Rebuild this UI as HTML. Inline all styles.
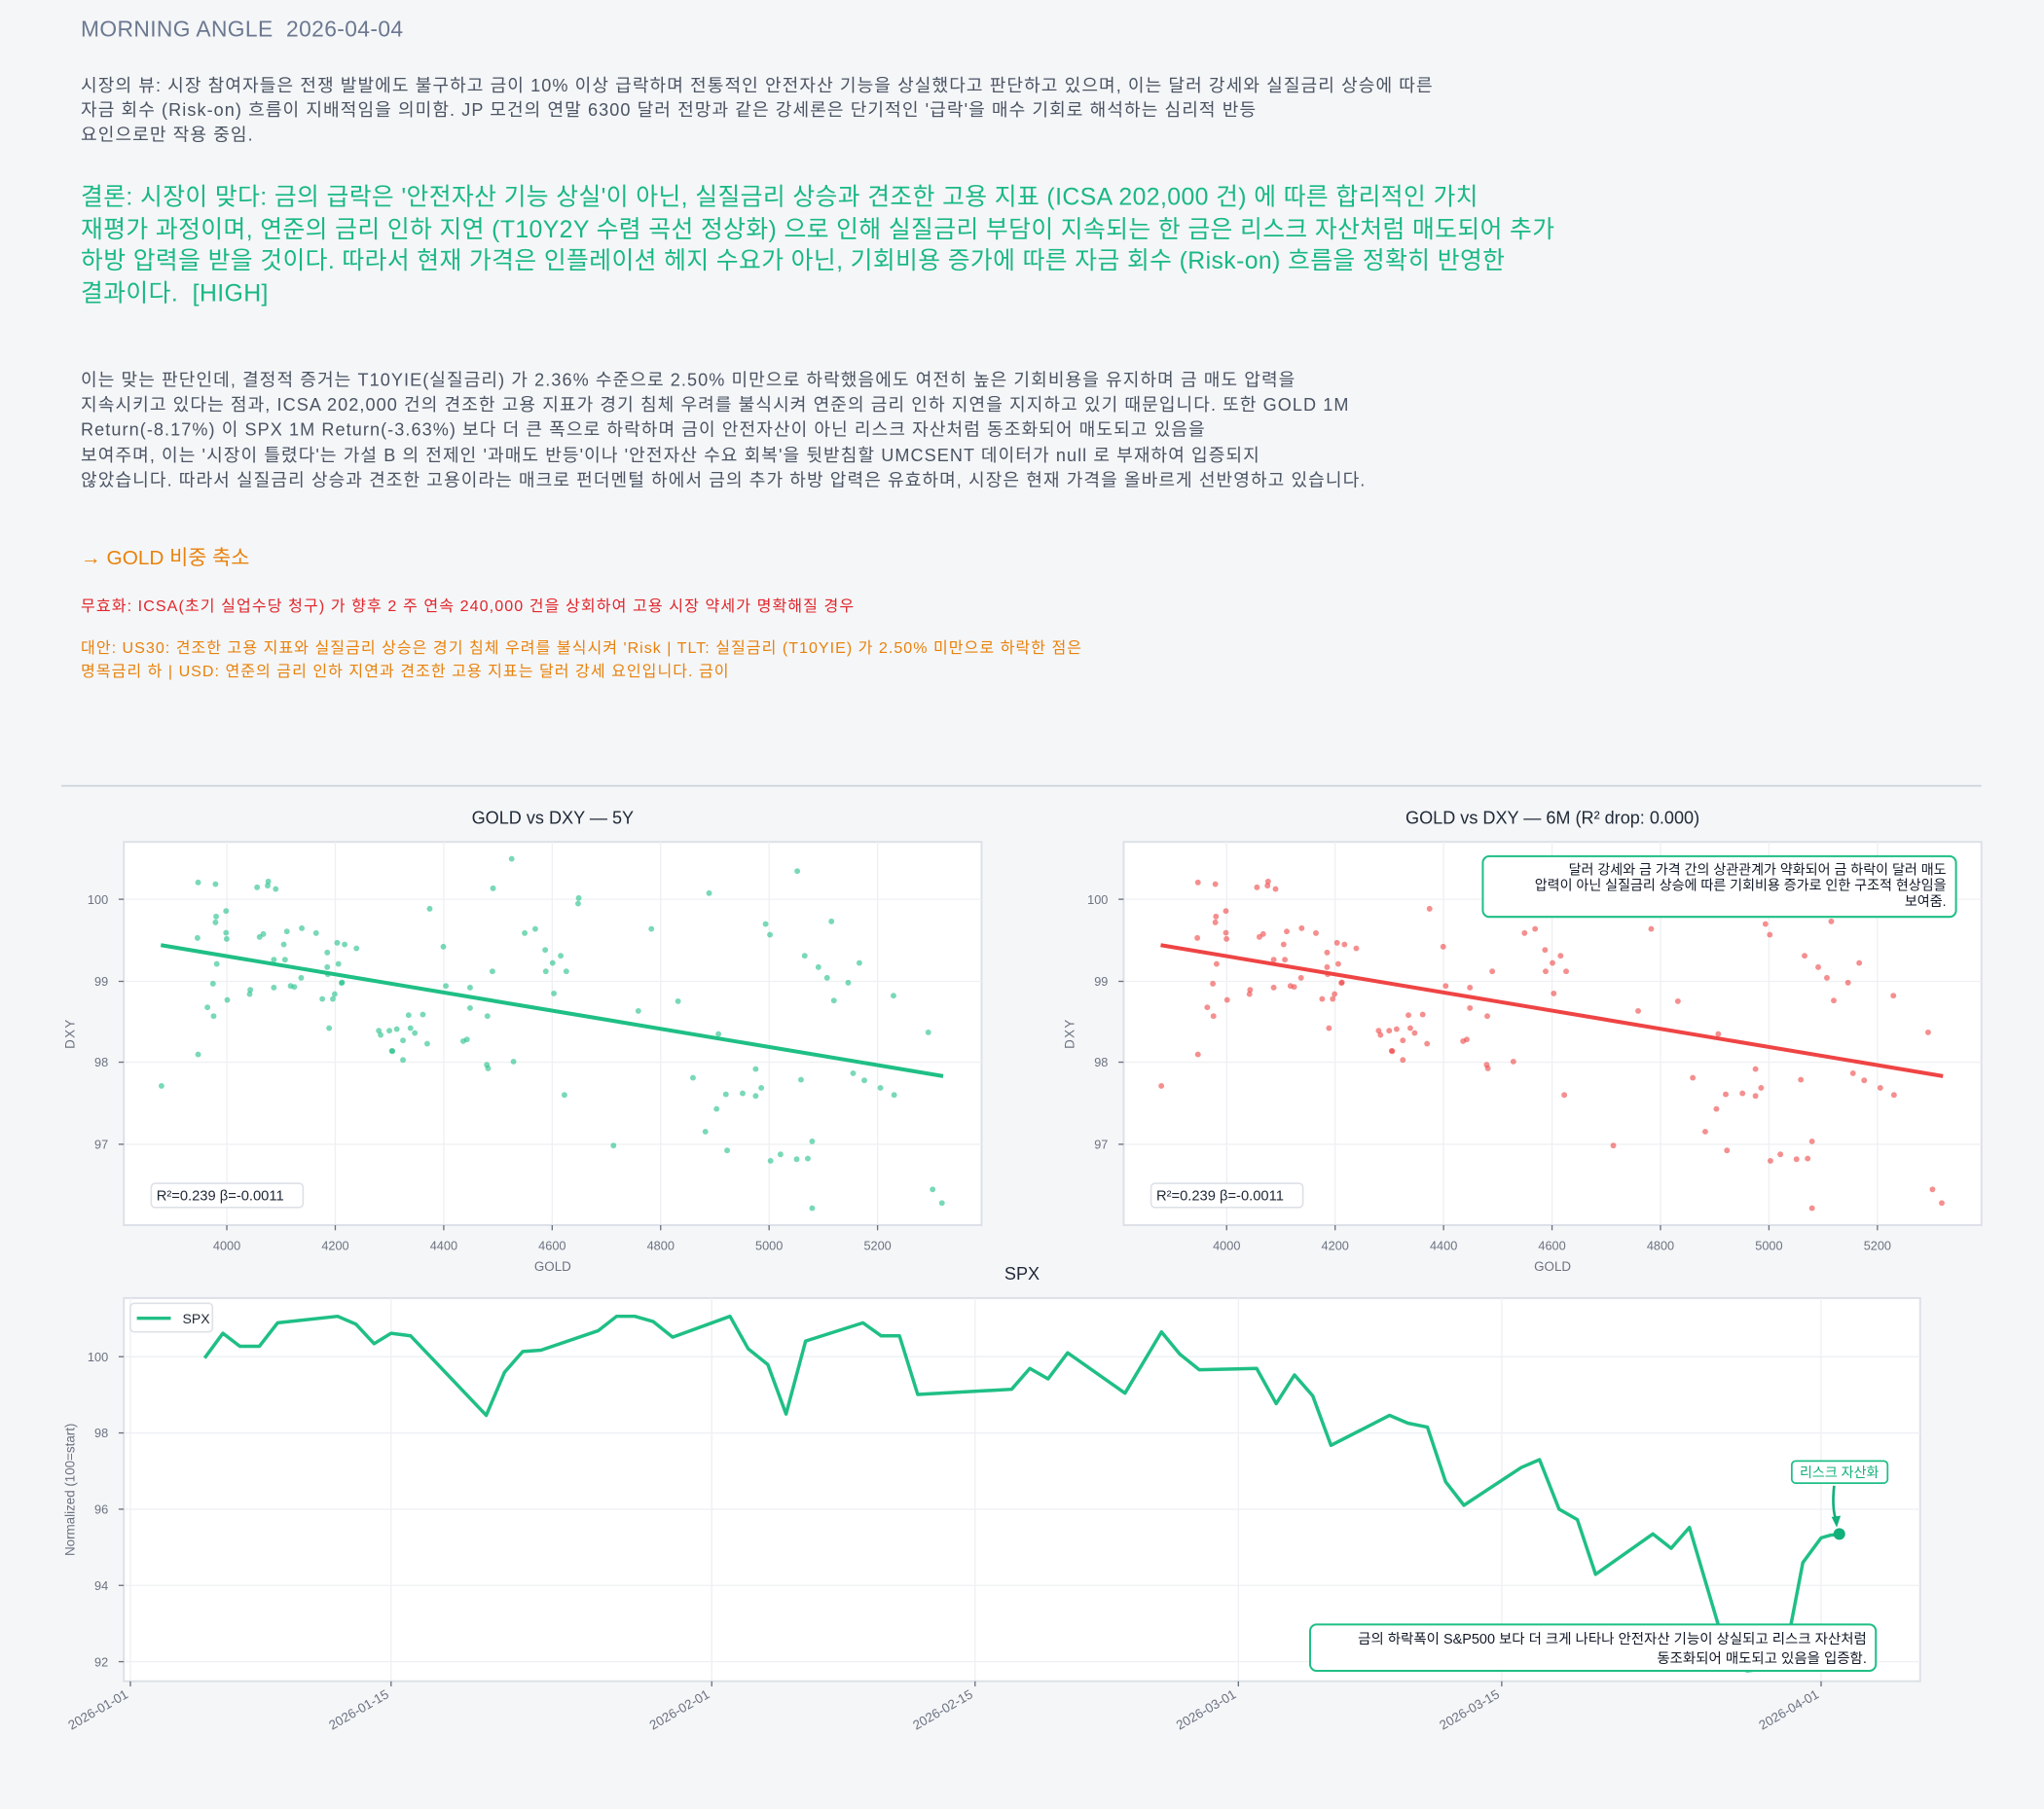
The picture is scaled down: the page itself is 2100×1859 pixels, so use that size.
<!DOCTYPE html>
<html><head><meta charset="utf-8">
<style>
html,body{margin:0;padding:0;background:#f5f6f8;width:2100px;height:1859px;overflow:hidden}
#w{position:absolute;left:0;top:0;width:1568px;height:1388px;transform:scale(1.33929);transform-origin:0 0;font-family:"Liberation Sans","Noto Sans CJK KR",sans-serif}
.t{position:absolute;white-space:nowrap}
svg text{font-family:"Liberation Sans","Noto Sans CJK KR",sans-serif}
</style></head><body><div id="w">
<div class="t" style="left:62px;top:13px;font-size:17px;color:#6b7890;letter-spacing:0.3px">MORNING ANGLE&nbsp; 2026-04-04</div>
<div class="t" style="left:62px;top:56px;font-size:13.5px;line-height:19px;color:#4a5463;letter-spacing:0.8px">시장의 뷰: 시장 참여자들은 전쟁 발발에도 불구하고 금이 10% 이상 급락하며 전통적인 안전자산 기능을 상실했다고 판단하고 있으며, 이는 달러 강세와 실질금리 상승에 따른<br>자금 회수 (Risk-on) 흐름이 지배적임을 의미함. JP 모건의 연말 6300 달러 전망과 같은 강세론은 단기적인 '급락'을 매수 기회로 해석하는 심리적 반등<br>요인으로만 작용 중임.</div>
<div class="t" style="left:62px;top:139px;font-size:18.5px;line-height:24.7px;color:#19b883;letter-spacing:0.3px">결론: 시장이 맞다: 금의 급락은 '안전자산 기능 상실'이 아닌, 실질금리 상승과 견조한 고용 지표 (ICSA 202,000 건) 에 따른 합리적인 가치<br>재평가 과정이며, 연준의 금리 인하 지연 (T10Y2Y 수렴 곡선 정상화) 으로 인해 실질금리 부담이 지속되는 한 금은 리스크 자산처럼 매도되어 추가<br>하방 압력을 받을 것이다. 따라서 현재 가격은 인플레이션 헤지 수요가 아닌, 기회비용 증가에 따른 자금 회수 (Risk-on) 흐름을 정확히 반영한<br>결과이다.&nbsp; [HIGH]</div>
<div class="t" style="left:62px;top:282px;font-size:13.5px;line-height:19.2px;color:#4a5463;letter-spacing:0.8px">이는 맞는 판단인데, 결정적 증거는 T10YIE(실질금리) 가 2.36% 수준으로 2.50% 미만으로 하락했음에도 여전히 높은 기회비용을 유지하며 금 매도 압력을<br>지속시키고 있다는 점과, ICSA 202,000 건의 견조한 고용 지표가 경기 침체 우려를 불식시켜 연준의 금리 인하 지연을 지지하고 있기 때문입니다. 또한 GOLD 1M<br>Return(-8.17%) 이 SPX 1M Return(-3.63%) 보다 더 큰 폭으로 하락하며 금이 안전자산이 아닌 리스크 자산처럼 동조화되어 매도되고 있음을<br>보여주며, 이는 '시장이 틀렸다'는 가설 B 의 전제인 '과매도 반등'이나 '안전자산 수요 회복'을 뒷받침할 UMCSENT 데이터가 null 로 부재하여 입증되지<br>않았습니다. 따라서 실질금리 상승과 견조한 고용이라는 매크로 펀더멘털 하에서 금의 추가 하방 압력은 유효하며, 시장은 현재 가격을 올바르게 선반영하고 있습니다.</div>
<div class="t" style="left:62px;top:416px;font-size:15.5px;color:#e8820c">→ GOLD 비중 축소</div>
<div class="t" style="left:62px;top:456px;font-size:12px;color:#e0262b;letter-spacing:0.8px">무효화: ICSA(초기 실업수당 청구) 가 향후 2 주 연속 240,000 건을 상회하여 고용 시장 약세가 명확해질 경우</div>
<div class="t" style="left:62px;top:488px;font-size:12px;line-height:18px;color:#e8820c;letter-spacing:0.75px">대안: US30: 견조한 고용 지표와 실질금리 상승은 경기 침체 우려를 불식시켜 'Risk | TLT: 실질금리 (T10YIE) 가 2.50% 미만으로 하락한 점은<br>명목금리 하 | USD: 연준의 금리 인하 지연과 견조한 고용 지표는 달러 강세 요인입니다. 금이</div>

<svg id="s" width="1568" height="1388" style="position:absolute;left:0;top:0" xmlns="http://www.w3.org/2000/svg">
<line x1="47" y1="603" x2="1520" y2="603" stroke="#c9d1db" stroke-width="1.2"/>
<g id="c1"></g><g id="c2"></g><g id="c3"></g>
</svg>
</div>
<script>
var NS="http://www.w3.org/2000/svg";
function el(p,n,a,t){var e=document.createElementNS(NS,n);for(var k in a)e.setAttribute(k,a[k]);if(t!=null)e.textContent=t;p.appendChild(e);return e;}
var pts=[[225,320],[253,325],[338,317],[337,330],[320,335],[350,340],[730,247],[700,338],[1190,285],[1048,353],[838,368],[837,385],[270,408],[254,425],[253,443],[598,401],[1139,448],[1245,440],[955,463],[768,463],[751,476],[1146,481],[224,491],[270,475],[271,494],[324,488],[330,479],[368,471],[392,461],[415,476],[363,511],[449,506],[461,511],[480,523],[620,518],[433,536],[784,528],[809,546],[1202,546],[347,558],[365,558],[255,571],[451,571],[796,568],[433,581],[1224,581],[1290,568],[785,594],[818,594],[699,594],[391,614],[434,603],[1238,614],[249,632],[457,628],[456,630],[1272,629],[374,639],[380,642],[347,644],[624,639],[663,644],[309,651],[308,664],[445,664],[798,662],[1345,669],[272,682],[425,679],[442,679],[998,686],[1249,684],[240,705],[663,707],[934,716],[250,732],[564,729],[587,727],[691,732],[567,769],[436,769],[516,777],[519,790],[533,777],[545,772],[574,784],[1063,787],[1401,782],[555,807],[594,817],[652,809],[658,804],[538,840],[537,839],[225,850],[555,867],[690,882],[692,893],[733,872],[1123,895],[1280,908],[1022,922],[1196,928],[1298,930],[166,947],[1132,953],[1324,953],[1075,973],[1102,970],[1123,978],[815,975],[1346,975],[1060,1018],[1042,1088],[1214,1118],[894,1131],[1077,1146],[1163,1158],[1147,1178],[1189,1173],[1207,1171],[1408,1266],[1423,1308],[1214,1324]];
function scatter(g,dx,col,title){
 var L=95+dx,R=753+dx,T=646,B=940;
 el(g,"rect",{x:L,y:T,width:R-L,height:B-T,fill:"#fff",stroke:"#dde1e7","stroke-width":1.5});
 [690,753,815,878].forEach(function(y,i){el(g,"line",{x1:L,x2:R,y1:y,y2:y,stroke:"#eef0f3"});el(g,"line",{x1:L-4,x2:L,y1:y,y2:y,stroke:"#6b7280"});
  el(g,"text",{x:L-12,y:y+3.5,"text-anchor":"end","font-size":9.5,fill:"#6b7280"},["100","99","98","97"][i]);});
 for(var k=0;k<7;k++){var x=174+dx+k*83.2;el(g,"line",{x1:x,x2:x,y1:T,y2:B,stroke:"#eef0f3"});el(g,"line",{x1:x,x2:x,y1:B,y2:B+4,stroke:"#6b7280"});
  el(g,"text",{x:x,y:B+19,"text-anchor":"middle","font-size":9.5,fill:"#6b7280"},String(4000+200*k));}
 el(g,"text",{x:(L+R)/2,y:975,"text-anchor":"middle","font-size":10,fill:"#6b7280"},"GOLD");
 el(g,"text",{x:0,y:0,"text-anchor":"middle","font-size":10,fill:"#6b7280",transform:"translate("+(57+dx)+",793) rotate(-90)","letter-spacing":"1"},"DXY");
 el(g,"text",{x:(L+R)/2,y:632,"text-anchor":"middle","font-size":13.5,fill:"#1f2937"},title);
 pts.forEach(function(p){el(g,"circle",{cx:p[0]*0.4763+44.81+dx,cy:p[1]*0.24894+597.46,r:2.2,fill:col,"fill-opacity":0.6});});
 el(g,"line",{x1:123.4+dx,y1:725.2,x2:723.5+dx,y2:825.7,stroke:col,"stroke-width":3});
 el(g,"rect",{x:116+dx,y:908,width:116.5,height:18.5,rx:3,fill:"#fff",stroke:"#dde1e7","stroke-width":1.2});
 el(g,"text",{x:120+dx,y:921,"font-size":11,fill:"#1f2937"},"R²=0.239  β=-0.0011");
}
scatter(document.getElementById("c1"),0,"#1fbf85","GOLD vs DXY — 5Y");
var g2=document.getElementById("c2");
scatter(g2,767,"#ef4444","GOLD vs DXY — 6M (R² drop: 0.000)");
el(g2,"rect",{x:1137.5,y:657,width:363,height:46.5,rx:5,fill:"#fff",stroke:"#1fbf85","stroke-width":1.5});
["달러 강세와 금 가격 간의 상관관계가 약화되어 금 하락이 달러 매도","압력이 아닌 실질금리 상승에 따른 기회비용 증가로 인한 구조적 현상임을","보여줌."].forEach(function(s,i){el(g2,"text",{x:1493,y:671+i*12,"text-anchor":"end","font-size":10.5,fill:"#111827"},s);});
var g=document.getElementById("c3"),L=95,R=1473,T=996,B=1290;
el(g,"rect",{x:L,y:T,width:R-L,height:B-T,fill:"#fff",stroke:"#dde1e7","stroke-width":1.5});
el(g,"text",{x:784,y:982,"text-anchor":"middle","font-size":13.5,fill:"#1f2937"},"SPX");
[100,98,96,94,92].forEach(function(v,i){var y=1041+i*58.5;el(g,"line",{x1:L,x2:R,y1:y,y2:y,stroke:"#eef0f3"});el(g,"line",{x1:L-4,x2:L,y1:y,y2:y,stroke:"#6b7280"});
 el(g,"text",{x:L-12,y:y+3.5,"text-anchor":"end","font-size":9.5,fill:"#6b7280"},String(v));});
[[100,"2026-01-01"],[300,"2026-01-15"],[546,"2026-02-01"],[748,"2026-02-15"],[950,"2026-03-01"],[1152,"2026-03-15"],[1397,"2026-04-01"]].forEach(function(d){
 el(g,"line",{x1:d[0],x2:d[0],y1:T,y2:B,stroke:"#eef0f3"});el(g,"line",{x1:d[0],x2:d[0],y1:B,y2:B+4,stroke:"#6b7280"});
 el(g,"text",{x:0,y:0,"text-anchor":"end","font-size":10,fill:"#6b7280",transform:"translate("+(d[0]-1)+","+(B+12)+") rotate(-30)"},d[1]);});
el(g,"text",{x:0,y:0,"text-anchor":"middle","font-size":10,fill:"#6b7280",transform:"translate(57,1143) rotate(-90)"},"Normalized (100=start)");
var sp=[[157,1042],[171,1023],[184,1033],[199,1033],[213,1015],[259,1010],[273,1016],[287,1031],[300,1023],[315,1025],[373,1086],[387,1053],[401,1037],[415,1036],[459,1021],[473,1010],[487,1010],[501,1014],[516,1026],[560,1010],[574,1035],[589,1047],[603,1085],[618,1029],[662,1015],[676,1025],[690,1025],[704,1070],[776,1066],[790,1050],[804,1058],[819,1038],[863,1069],[891,1022],[905,1039],[920,1051],[964,1050],[979,1077],[993,1055],[1007,1071],[1021,1109],[1066,1086],[1080,1092],[1095,1095],[1109,1137],[1123,1155],[1167,1126],[1181,1120],[1196,1158],[1210,1166],[1224,1208],[1268,1177],[1282,1188],[1296,1172],[1325,1270],[1340,1282],[1360,1280],[1374,1246],[1383,1199],[1397,1180],[1404,1178],[1411,1177]];
el(g,"polyline",{points:sp.map(function(p){return p.join(",")}).join(" "),fill:"none",stroke:"#1fbf85","stroke-width":2.6,"stroke-linejoin":"round"});
el(g,"rect",{x:100,y:1000,width:63,height:22,rx:3,fill:"#fff",stroke:"#dde1e7","stroke-width":1.2});
el(g,"line",{x1:105,x2:131,y1:1011.5,y2:1011.5,stroke:"#1fbf85","stroke-width":2.6});
el(g,"text",{x:140,y:1015.5,"font-size":10.5,fill:"#1f2937"},"SPX");
el(g,"rect",{x:1005,y:1246.5,width:434,height:35.5,rx:5,fill:"#fff",stroke:"#1fbf85","stroke-width":1.5});
el(g,"text",{x:1432,y:1261,"text-anchor":"end","font-size":10.8,fill:"#111827"},"금의 하락폭이 S&P500 보다 더 크게 나타나 안전자산 기능이 상실되고 리스크 자산처럼");
el(g,"text",{x:1432,y:1276,"text-anchor":"end","font-size":10.8,fill:"#111827"},"동조화되어 매도되고 있음을 입증함.");
el(g,"circle",{cx:1411,cy:1177,r:4.5,fill:"#12b07a"});
el(g,"rect",{x:1374.5,y:1121,width:73.5,height:17,rx:3,fill:"#fff",stroke:"#1fbf85","stroke-width":1.3});
el(g,"text",{x:1411,y:1133.5,"text-anchor":"middle","font-size":10.5,fill:"#12b07a"},"리스크 자산화");
el(g,"path",{d:"M1407,1140 Q1405,1158 1409,1168",fill:"none",stroke:"#12b07a","stroke-width":2});
el(g,"path",{d:"M1405,1164 L1409,1172 L1412,1163 Z",fill:"#12b07a"});
</script>
</body></html>
